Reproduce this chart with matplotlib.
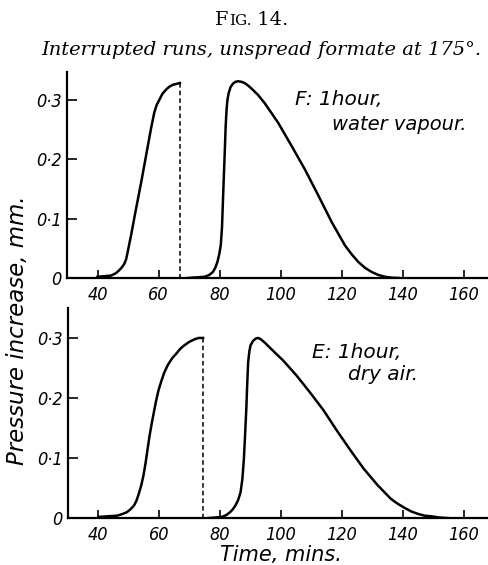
"""Interrupted runs of unspread formate at 175 deg: pressure rise vs time."""

import matplotlib
matplotlib.use("Agg")
import matplotlib.pyplot as plt

# Run F (water vapour): first stage up to the interruption, then the resumed run
f_first_t = [40, 44.4, 46.0, 47.1, 48.0, 48.8, 49.4, 49.9, 50.4, 51.0, 52.6, 54.3, 55.9, 57.5, 58.6,
             59.4, 60.3, 61.3, 62.5, 63.6, 64.7, 67.0]
f_first_p = [0.002, 0.004, 0.008, 0.013, 0.018, 0.024, 0.032, 0.044, 0.057, 0.072, 0.116, 0.161, 0.206,
             0.251, 0.279, 0.292, 0.301, 0.311, 0.318, 0.323, 0.326, 0.329]
f_second_t = [69.6, 75.1, 76.6, 77.8, 78.6, 79.3, 79.9, 80.4, 80.8, 81.1, 81.4, 81.7, 82.0, 82.3, 82.6,
              83.0, 83.6, 84.4, 85.2, 86.1, 87.2, 88.2, 89.3, 90.4, 92.6, 94.8, 99.2, 103.6, 108.0,
              112.4, 116.8, 121.1, 123.3, 125.5, 127.7, 129.9, 132.1, 134.3, 136.5, 138.7]
f_second_p = [0.0, 0.002, 0.005, 0.010, 0.017, 0.027, 0.040, 0.055, 0.085, 0.128, 0.170, 0.211, 0.255,
              0.284, 0.301, 0.312, 0.322, 0.328, 0.331, 0.332, 0.331, 0.329, 0.325, 0.320, 0.309, 0.295,
              0.262, 0.223, 0.183, 0.139, 0.094, 0.055, 0.040, 0.027, 0.017, 0.010, 0.005, 0.002,
              0.0005, 0.0]
f_stop = 67.0

# Run E (dry air)
e_first_t = [40, 46.1, 48.0, 49.4, 50.6, 51.7, 52.5, 53.3, 54.1, 54.8, 55.5, 56.1, 56.8, 57.6, 58.9,
             59.7, 60.6, 61.6, 62.8, 64.2, 65.6, 66.9, 68.3, 70.0, 71.7, 73.0, 74.4]
e_first_p = [0.002, 0.004, 0.007, 0.010, 0.015, 0.021, 0.029, 0.041, 0.055, 0.071, 0.092, 0.113, 0.137,
             0.160, 0.194, 0.212, 0.227, 0.242, 0.255, 0.266, 0.274, 0.282, 0.288, 0.294, 0.298, 0.300,
             0.300]
e_second_t = [76.0, 80.6, 82.0, 83.3, 84.2, 85.0, 85.9, 86.7, 87.3, 87.8, 88.2, 88.6, 88.9, 89.2, 89.6,
              90.0, 90.8, 91.7, 92.5, 93.3, 94.7, 96.1, 98.3, 100.6, 105.0, 109.4, 113.9, 118.3, 122.8,
              127.2, 131.7, 136.1, 138.3, 140.6, 142.8, 145.0, 147.2, 149.4, 152.0, 155.0]
e_second_p = [0.0, 0.002, 0.005, 0.010, 0.015, 0.021, 0.030, 0.043, 0.065, 0.099, 0.140, 0.183, 0.225,
              0.260, 0.278, 0.288, 0.295, 0.299, 0.300, 0.298, 0.292, 0.285, 0.274, 0.263, 0.238, 0.210,
              0.180, 0.146, 0.113, 0.082, 0.055, 0.032, 0.024, 0.017, 0.011, 0.007, 0.004, 0.003,
              0.001, 0.0]
e_stop = 74.4

x_ticks = [40, 60, 80, 100, 120, 140, 160]
y_ticks = [0, 0.1, 0.2, 0.3]
y_tick_labels = ["0", "0\u00b71", "0\u00b72", "0\u00b73"]

TICK_FONT = dict(family="DejaVu Sans", style="italic", stretch="condensed")
LABEL_FONT = dict(family="DejaVu Sans", style="italic")
SERIF = dict(family="DejaVu Serif")


def style_axes(ax, ytop):
    ax.set_xlim(30, 168)
    ax.set_ylim(0, ytop)
    for side in ("top", "right"):
        ax.spines[side].set_visible(False)
    for side in ("left", "bottom"):
        ax.spines[side].set_linewidth(1.6)
    ax.set_xticks(x_ticks)
    ax.set_xticklabels([str(t) for t in x_ticks], fontsize=13, **TICK_FONT)
    ax.set_yticks(y_ticks)
    ax.set_yticklabels(y_tick_labels, fontsize=13, **TICK_FONT)
    ax.tick_params(axis="x", direction="in", length=6, width=1.2, pad=6)
    ax.tick_params(axis="y", direction="in", length=7, width=1.2, pad=4)


def draw_run(ax, t1, p1, stop, t2, p2):
    ax.plot(t1, p1, color="black", lw=1.8, solid_joinstyle="round")
    ax.plot([stop, stop], [p1[-1], 0], color="black", lw=1.1, ls=(0, (3, 2)))
    ax.plot(t2, p2, color="black", lw=1.8, solid_joinstyle="round")


fig = plt.figure(figsize=(4.89, 5.65), dpi=100)

ax_top = fig.add_axes([0.137, 0.508, 0.861, 0.365])
ax_bot = fig.add_axes([0.139, 0.083, 0.859, 0.372])

style_axes(ax_top, 0.348)
style_axes(ax_bot, 0.350)

draw_run(ax_top, f_first_t, f_first_p, f_stop, f_second_t, f_second_p)
draw_run(ax_bot, e_first_t, e_first_p, e_stop, e_second_t, e_second_p)

ax_top.text(0.541, 0.84, "F: 1hour,", transform=ax_top.transAxes, fontsize=14.5, **LABEL_FONT)
ax_top.text(0.629, 0.718, "water vapour.", transform=ax_top.transAxes, fontsize=14, **LABEL_FONT)
ax_bot.text(0.581, 0.762, "E: 1hour,", transform=ax_bot.transAxes, fontsize=14.5, **LABEL_FONT)
ax_bot.text(0.667, 0.655, "dry air.", transform=ax_bot.transAxes, fontsize=14.5, **LABEL_FONT)

fig.text(0.575, 0.018, "Time, mins.", ha="center", va="center", fontsize=15, **LABEL_FONT)
fig.text(0.035, 0.416, "Pressure increase, mm.", rotation=90, ha="center", va="center",
         fontsize=16.5, **LABEL_FONT)

# Heading: small-capital "FIG." then italic caption
title_y = 0.956
t_f = fig.text(0.44, title_y, "F", fontsize=14, ha="left", va="baseline", **SERIF)
fig.canvas.draw()
bb = t_f.get_window_extent()
t_ig = fig.text(bb.x1 / fig.bbox.width, title_y, "IG.", fontsize=11, ha="left", va="baseline", **SERIF)
fig.canvas.draw()
bb2 = t_ig.get_window_extent()
fig.text(bb2.x1 / fig.bbox.width, title_y, " 14.", fontsize=14, ha="left", va="baseline", **SERIF)

fig.text(0.534, 0.902, "Interrupted runs, unspread formate at 175\u00b0.", ha="center", va="baseline",
         fontsize=14, style="italic", **SERIF)

fig.savefig("out.png", dpi=100)
